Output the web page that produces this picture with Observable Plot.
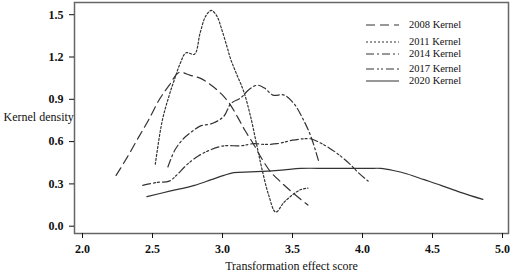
<!DOCTYPE html>
<html>
<head>
<meta charset="utf-8">
<script src="https://cdn.jsdelivr.net/npm/d3@7"></script>
<script src="https://cdn.jsdelivr.net/npm/@observablehq/plot@0.6"></script>
<style>
  html, body { margin: 0; padding: 0; background: #fff; }
  #chart { position: relative; width: 512px; height: 273px; }
</style>
</head>
<body>
<div id="chart"></div>
<script>
// ---- data ----
const seriesNames = ["2008 Kernel", "2011 Kernel", "2014 Kernel", "2017 Kernel", "2020 Kernel"];

const x2008 = [2.24, 2.32, 2.40, 2.47, 2.55, 2.62, 2.69, 2.77, 2.84, 2.92, 2.99, 3.05, 3.11, 3.16, 3.22, 3.28, 3.34, 3.42, 3.51, 3.61];
const y2008 = [0.36, 0.49, 0.63, 0.75, 0.90, 1.00, 1.09, 1.07, 1.05, 1.00, 0.94, 0.87, 0.77, 0.68, 0.585, 0.48, 0.39, 0.31, 0.23, 0.15];

const x2011 = [2.52, 2.57, 2.62, 2.66, 2.70, 2.74, 2.80, 2.84, 2.88, 2.92, 2.96, 2.99, 3.03, 3.06, 3.10, 3.15, 3.20, 3.25, 3.29, 3.33, 3.38, 3.44, 3.51, 3.56, 3.61];
const y2011 = [0.44, 0.75, 0.93, 1.05, 1.16, 1.23, 1.22, 1.37, 1.49, 1.53, 1.49, 1.41, 1.28, 1.18, 1.08, 0.96, 0.78, 0.55, 0.37, 0.22, 0.10, 0.17, 0.23, 0.26, 0.27];

const x2014 = [2.61, 2.66, 2.72, 2.78, 2.84, 2.93, 3.01, 3.06, 3.13, 3.19, 3.25, 3.30, 3.36, 3.44, 3.51, 3.57, 3.63, 3.69];
const y2014 = [0.42, 0.54, 0.62, 0.67, 0.71, 0.73, 0.78, 0.87, 0.91, 0.97, 1.00, 0.98, 0.93, 0.93, 0.87, 0.77, 0.64, 0.45];

const x2017 = [2.43, 2.53, 2.62, 2.67, 2.75, 2.83, 2.91, 3.01, 3.13, 3.22, 3.30, 3.39, 3.50, 3.58, 3.63, 3.70, 3.77, 3.84, 3.91, 3.97, 4.04];
const y2017 = [0.29, 0.31, 0.32, 0.36, 0.44, 0.50, 0.54, 0.57, 0.57, 0.585, 0.58, 0.585, 0.61, 0.62, 0.62, 0.59, 0.55, 0.50, 0.44, 0.38, 0.32];

const x2020 = [2.46, 2.63, 2.80, 2.92, 3.01, 3.08, 3.20, 3.32, 3.44, 3.56, 3.75, 3.91, 4.05, 4.13, 4.22, 4.32, 4.44, 4.56, 4.70, 4.86];
const y2020 = [0.21, 0.25, 0.29, 0.33, 0.36, 0.38, 0.385, 0.39, 0.40, 0.41, 0.41, 0.41, 0.41, 0.41, 0.395, 0.37, 0.33, 0.29, 0.24, 0.19];

const xTicks = [2.0, 2.5, 3.0, 3.5, 4.0, 4.5, 5.0];
const yTicks = [0.0, 0.3, 0.6, 0.9, 1.2, 1.5];
const xTitle = "Transformation effect score";
const yTitle = "Kernel density";

// ---- styles ----
const dashes = ["9,5", "2,2", "8,3,2,3", "8,3,2,2,2,3", null];
const lineColor = "#333";
const serif = "'Liberation Serif', 'Times New Roman', serif";

const xs = [x2008, x2011, x2014, x2017, x2020];
const ys = [y2008, y2011, y2014, y2017, y2020];
const rows = seriesNames.map((name, i) => xs[i].map((x, j) => ({series: name, x, y: ys[i][j]})));

const marks = [
  Plot.frame({stroke: "#666", strokeWidth: 1.5}),
  Plot.axisX({ticks: xTicks, tickFormat: d3.format(".1f"), tickSize: 5, tickPadding: 6,
    fontWeight: "bold", fontSize: 12, label: null}),
  Plot.axisX({ticks: [], label: xTitle, labelAnchor: "center", labelArrow: false, labelOffset: 36, fontSize: 12, tickSize: 0}),
  Plot.axisY({ticks: yTicks, tickFormat: d3.format(".1f"), tickSize: 5, tickPadding: 6,
    fontWeight: "bold", fontSize: 12, label: null}),
  Plot.text([yTitle], {frameAnchor: "left", y: () => 0.771, text: d => d, dx: -71, textAnchor: "start", fontSize: 12}),
  ...rows.map((data, i) => Plot.line(data, {x: "x", y: "y", curve: "catmull-rom",
    stroke: lineColor, strokeWidth: 1.2, strokeDasharray: dashes[i]}))
];

const chart = Plot.plot({
  width: 512,
  height: 273,
  marginLeft: 74,
  marginRight: 4,
  marginTop: 2,
  marginBottom: 40,
  x: {domain: [2.0 - 8 / 140, 5.0 + 6 / 140]},
  y: {domain: [-7.3 / 141, 223.7 / 141]},
  style: {fontFamily: serif, fontSize: "12px", color: "#111", background: "#fff"},
  marks
});
document.getElementById("chart").appendChild(chart);

// legend (top-right, inside the frame)
const svg = d3.select(chart);
const legendRowsY = [25, 42, 54, 69, 81];
const lg = svg.append("g").attr("font-family", serif).attr("font-size", 10.5).attr("text-anchor", "start");
seriesNames.forEach((name, i) => {
  lg.append("line").attr("x1", 366).attr("x2", 399).attr("y1", legendRowsY[i]).attr("y2", legendRowsY[i])
    .attr("stroke", lineColor).attr("stroke-width", 1.2)
    .attr("stroke-dasharray", dashes[i]);
  lg.append("text").attr("x", 409).attr("y", legendRowsY[i]).attr("dy", "0.32em").attr("fill", "#111").text(name);
});
</script>
</body>
</html>
